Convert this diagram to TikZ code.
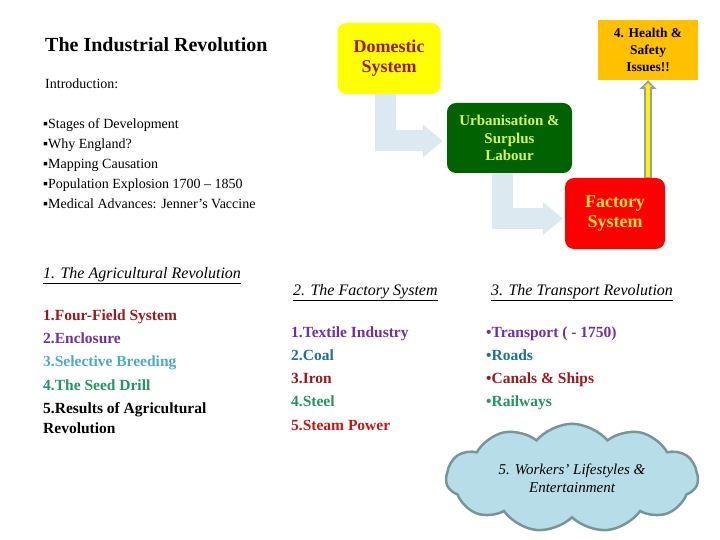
\documentclass[tikz,border=0pt]{standalone}
\usepackage{fontspec}
\setmainfont{LiberationSerif}[Extension=.ttf, UprightFont=*-Regular, BoldFont=*-Bold,
  ItalicFont=*-Italic, BoldItalicFont=*-BoldItalic]
\usetikzlibrary{arrows.meta, shapes.symbols}

\definecolor{agred}{RGB}{155,25,30}
\definecolor{agpurple}{RGB}{112,48,160}
\definecolor{agcyan}{RGB}{75,172,198}
\definecolor{aggreen}{RGB}{35,150,95}
\definecolor{agteal}{RGB}{30,110,160}
\definecolor{agbright}{RGB}{200,20,20}
\definecolor{flowblue}{RGB}{220,233,240}
\definecolor{domyellow}{RGB}{255,255,0}
\definecolor{urbgreen}{RGB}{0,98,0}
\definecolor{urbtext}{RGB}{215,245,90}
\definecolor{factext}{RGB}{255,230,60}
\definecolor{hsorange}{RGB}{255,192,0}
\definecolor{cloudfill}{RGB}{183,221,232}
\definecolor{cloudline}{RGB}{120,150,150}
\definecolor{arrowgray}{RGB}{150,160,160}

\begin{document}
\begin{tikzpicture}[x=1pt, y=-1pt,
  txt/.style={anchor=base west, inner sep=0pt},
  item/.style={txt, font=\fontsize{15.5}{18}\selectfont\bfseries},
  head/.style={txt, font=\fontsize{16}{19}\selectfont\itshape},
  stage/.style={rounded corners=9pt, inner sep=0pt, align=center},
  flow/.style={line width=21pt, flowblue, -{Triangle[length=20pt, width=32pt]}}]

  \useasboundingbox (0, 0) rectangle (720, 540);

  % introduction
  \node[txt, font=\fontsize{20}{24}\selectfont\bfseries] (title) at (45, 52) {The Industrial Revolution};
  \node[txt, font=\fontsize{14}{17}\selectfont] (intro) at (45, 89) {Introduction:};
  \foreach \y/\i/\label in {129/1/{Stages of Development}, 149/2/{Why England?},
      169/3/{Mapping Causation}, 189/4/{Population Explosion 1700 – 1850},
      209/5/{Medical Advances: Jenner’s Vaccine}} {
    \node[txt, font=\fontsize{14}{17}\selectfont] (intro\i) at (43, \y) {▪\label};
  }

  % the three revolutions
  \node[head] (agr) at (43, 278) {\underline{1. The Agricultural Revolution}};
  \node[head] (fsys) at (293, 295) {\underline{2. The Factory System}};
  \node[head] (trans) at (491, 295) {\underline{3. The Transport Revolution}};

  \foreach \y/\i/\col/\label in {320/1/agred/{1.Four-Field System}, 343/2/agpurple/{2.Enclosure},
      366/3/agcyan/{3.Selective Breeding}, 390/4/aggreen/{4.The Seed Drill},
      413/5/black/{5.Results of Agricultural}} {
    \node[item, text=\col] (agr\i) at (43, \y) {\label};
  }
  \node[item] (agr5b) at (43, 433) {Revolution};

  \foreach \y/\i/\col/\label in {337/1/agpurple/{1.Textile Industry}, 360/2/agteal/{2.Coal},
      383/3/agred/{3.Iron}, 406/4/aggreen/{4.Steel}, 430/5/agbright/{5.Steam Power}} {
    \node[item, text=\col] (fsys\i) at (291, \y) {\label};
  }

  \foreach \y/\i/\col/\label in {337/1/agpurple/{•Transport ( - 1750)}, 360/2/agteal/{•Roads},
      383/3/agred/{•Canals \& Ships}, 406/4/aggreen/{•Railways}} {
    \node[item, text=\col] (trans\i) at (486, \y) {\label};
  }

  % stages of development
  \node[stage, fill=domyellow, text=agred, minimum width=103pt, minimum height=71pt,
    font=\fontsize{18}{20}\selectfont\bfseries] (dom) at (389, 58.5) {Domestic\\System};
  \node[stage, fill=urbgreen, text=urbtext, minimum width=125pt, minimum height=70pt,
    font=\fontsize{15}{17.5}\selectfont\bfseries] (urb) at (509.5, 138) {Urbanisation \&\\Surplus\\Labour};
  \node[stage, fill=red, text=factext, minimum width=100pt, minimum height=71pt,
    font=\fontsize{18}{20}\selectfont\bfseries] (fac) at (615, 213.5) {Factory\\System};
  \node[stage, sharp corners, fill=hsorange, minimum width=100pt, minimum height=60pt,
    font=\fontsize{13.5}{17}\selectfont\bfseries] (hs) at (648, 50) {4. Health \&\\Safety\\Issues!!};

  \draw[flow] ([xshift=-4pt]dom.south) |- ([xshift=-4pt, yshift=-3pt]urb.west);
  \draw[flow] ([xshift=-7.5pt]urb.south) |- ([xshift=-2pt, yshift=-5pt]fac.west);

  \draw[line width=8pt, arrowgray, -{Triangle[length=9pt, width=17pt]}] (hs.south |- fac.north) -- (hs.south);
  \draw[line width=4pt, yellow, -{Triangle[length=4pt, width=8pt]}, shorten >=3pt, shorten <=1pt]
    (hs.south |- fac.north) -- (hs.south);

  % workers
  \node[cloud, cloud puffs=11, cloud puff arc=100, aspect=2.6, draw=cloudline, line width=2.5pt,
    fill=cloudfill, minimum width=252pt, minimum height=92pt, align=center,
    font=\fontsize{15}{18}\selectfont\itshape] (life) at (572, 478) {5. Workers’ Lifestyles \&\\Entertainment};

\end{tikzpicture}
\end{document}
